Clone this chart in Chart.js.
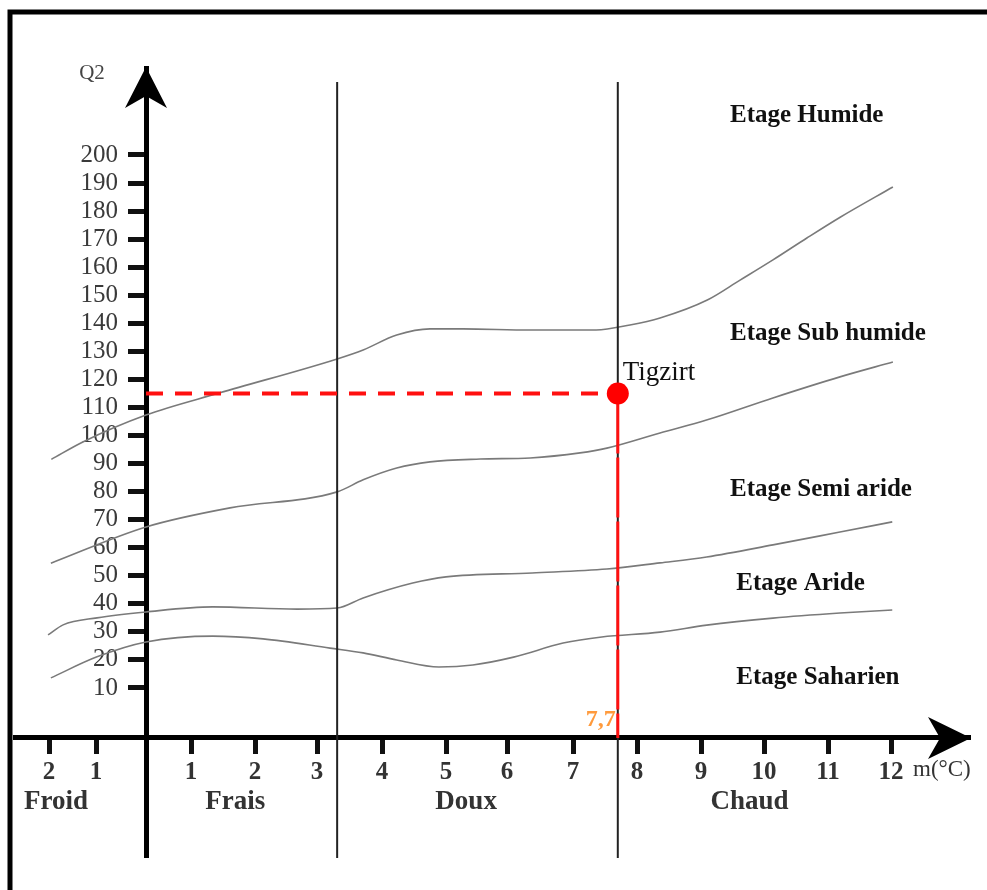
<!DOCTYPE html>
<html><head><meta charset="utf-8">
<script src="https://cdn.jsdelivr.net/npm/chart.js@4/dist/chart.umd.min.js"></script>
<style>html,body{margin:0;padding:0;background:#fff;}#wrap{width:987px;height:890px;position:relative;}</style>
</head><body><div id="wrap"><canvas id="c" width="987" height="890"></canvas></div>
<script>
// ---------- DATA ----------
const mTicks = [-2, -1, 1, 2, 3, 4, 5, 6, 7, 8, 9, 10, 11, 12];
const q2Ticks = [10, 20, 30, 40, 50, 60, 70, 80, 90, 100, 110, 120, 130, 140, 150, 160, 170, 180, 190, 200];

const limitHumideM  = [-1.95, -1.28, 0, 1.45, 3.31, 3.71, 4.23, 4.75, 5.28, 6.35, 7.36, 7.89, 8.36, 9.10, 9.62, 10.14, 10.67, 11.2, 12.03];
const limitHumideQ2 = [91.5, 97.7, 107.3, 115.2, 127.3, 130.5, 135.8, 138.0, 138.0, 137.6, 137.6, 139.4, 141.9, 148.3, 155.4, 162.6, 170.4, 177.9, 188.6];

const limitSubHumideM  = [-1.96, 0, 1.61, 3.31, 3.71, 4.23, 4.75, 5.56, 6.35, 7.11, 7.53, 8.36, 9.10, 10.14, 11.19, 12.03];
const limitSubHumideQ2 = [54.5, 67.4, 74.2, 79.9, 84.2, 88.4, 90.6, 91.6, 92.0, 93.8, 95.5, 100.9, 105.6, 113.4, 120.9, 126.2];

const limitSemiArideM  = [-2.02, -1.70, -0.98, 0, 1.34, 2.68, 3.31, 3.71, 4.48, 5.0, 6.38, 7.53, 8.36, 9.09, 10.14, 11.19, 12.02];
const limitSemiArideQ2 = [28.9, 32.5, 35.0, 37.1, 38.9, 38.1, 38.5, 42.1, 47.4, 49.6, 51.0, 52.4, 54.6, 56.7, 61.0, 65.6, 69.2];

const limitArideM  = [-1.96, -0.98, 0, 1.34, 2.13, 3.2, 3.71, 4.23, 4.89, 5.44, 6.10, 6.85, 7.45, 8.36, 9.09, 10.14, 11.19, 12.02];
const limitArideQ2 = [13.6, 21.1, 26.4, 28.5, 27.5, 24.2, 22.5, 20.0, 17.5, 18.2, 21.0, 26.0, 28.2, 29.9, 32.4, 34.9, 36.7, 37.8];

const thermalBoundsM = [3.31, 7.7];
const thermalBoundQ2Range = [-50.6, 226];
const regionNames = ['Froid', 'Frais', 'Doux', 'Chaud'];
const etageNames = ['Etage Humide', 'Etage Sub humide', 'Etage Semi aride', 'Etage Aride', 'Etage Saharien'];

const stationName = 'Tigzirt';
const stationM = 7.7;
const stationQ2 = 115;
const stationLabel = '7,7';

// ---------- LAYOUT (not data) ----------
const AXIS_Q2 = -7.8;          // level where the m axis crosses
const Y_MIN = -50.25, Y_MAX = 231;
const Y_LABEL_GAP = 28;        // distance from Q2 axis line to right edge of its labels
// hand-drawn m axis: reference pixel of each integer graduation
const KNOT_M = [-2, -1, 0, 1, 2, 3, 4, 5, 6, 7, 8, 9, 10, 11, 12];
const KNOT_U = [49, 96, 146, 191, 255, 317, 382, 446, 507, 573, 637, 701, 764, 828, 891];
const U0 = 15, U1 = 970;
const regionLabelM = [-1.85, 1.69, 5.33, 9.77];
const regionLabelQ2 = -30.5;
const etageLabelM = [9.46, 9.46, 9.46, 9.56, 9.56];
const etageLabelQ2 = [213.9, 136.5, 80.6, 47.1, 13.6];

function warp(v) {
  const n = KNOT_M.length;
  let i = 0;
  if (v <= KNOT_M[0]) i = 0;
  else if (v >= KNOT_M[n - 1]) i = n - 2;
  else { while (v > KNOT_M[i + 1]) i++; }
  const t = (v - KNOT_M[i]) / (KNOT_M[i + 1] - KNOT_M[i]);
  return KNOT_U[i] + t * (KNOT_U[i + 1] - KNOT_U[i]);
}
function unwarp(u) {
  const n = KNOT_U.length;
  let i = 0;
  if (u <= KNOT_U[0]) i = 0;
  else if (u >= KNOT_U[n - 1]) i = n - 2;
  else { while (u > KNOT_U[i + 1]) i++; }
  const t = (u - KNOT_U[i]) / (KNOT_U[i + 1] - KNOT_U[i]);
  return KNOT_M[i] + t * (KNOT_M[i + 1] - KNOT_M[i]);
}

class WarpScale extends Chart.LinearScale {
  getPixelForValue(value) {
    if (value === null || value === undefined || isNaN(value)) return NaN;
    return this.getPixelForDecimal((warp(value) - U0) / (U1 - U0));
  }
  getValueForPixel(pixel) {
    return unwarp(U0 + this.getDecimalForPixel(pixel) * (U1 - U0));
  }
}
WarpScale.id = 'warp';
WarpScale.defaults = Chart.LinearScale.defaults;

class CrossedLinearScale extends Chart.LinearScale {
  _computeLabelItems(chartArea) {
    const items = super._computeLabelItems(chartArea);
    items.forEach(it => {
      const tr = it.options.translation;
      it.options.translation = [tr[0] - Y_LABEL_GAP, tr[1]];
    });
    return items;
  }
}
CrossedLinearScale.id = 'crossedLinear';
CrossedLinearScale.defaults = Chart.LinearScale.defaults;
Chart.register(WarpScale, CrossedLinearScale);

const SERIF = '"Liberation Serif", "DejaVu Serif", serif';

function pts(ms, qs) { return ms.map((m, i) => ({x: m, y: qs[i]})); }
function curve(ms, qs) {
  return { data: pts(ms, qs), showLine: true, borderColor: '#7a7a7a', borderWidth: 1.6,
    pointRadius: 0, cubicInterpolationMode: 'monotone', fill: false, clip: false, order: 5 };
}

const datasets = [
  curve(limitHumideM, limitHumideQ2),
  curve(limitSubHumideM, limitSubHumideQ2),
  curve(limitSemiArideM, limitSemiArideQ2),
  curve(limitArideM, limitArideQ2),
  ...thermalBoundsM.map(m => ({
    data: [{x: m, y: thermalBoundQ2Range[0]}, {x: m, y: thermalBoundQ2Range[1]}],
    showLine: true, borderColor: '#222', borderWidth: 2, pointRadius: 0, clip: false, order: 4 })),
  { data: [{x: 0, y: stationQ2}, {x: stationM, y: stationQ2}], showLine: true,
    borderColor: '#ff1010', borderWidth: 4, borderDash: [17, 12], pointRadius: 0, clip: false, order: 3 },
  { data: [{x: stationM, y: stationQ2}, {x: stationM, y: AXIS_Q2}], showLine: true,
    borderColor: '#ff1010', borderWidth: 3, borderDash: [60, 4], pointRadius: 0, clip: false, order: 3 },
  { data: [{x: stationM, y: stationQ2}], showLine: false, pointRadius: 11, pointBackgroundColor: '#ff0000',
    pointBorderColor: '#ff0000', pointBorderWidth: 0, clip: false, order: 1 }
];

const decor = {
  id: 'decor',
  afterDraw(chart) {
    const ctx = chart.ctx, xs = chart.scales.x, ys = chart.scales.y;
    ctx.save();
    // frame
    ctx.strokeStyle = '#000'; ctx.lineWidth = 5;
    ctx.beginPath(); ctx.moveTo(10, 890); ctx.lineTo(10, 12); ctx.lineTo(987, 12); ctx.stroke();
    // arrows
    const ax = xs.getPixelForValue(0), ay = ys.getPixelForValue(AXIS_Q2);
    const top = chart.chartArea.top, right = chart.chartArea.right;
    ctx.fillStyle = '#000';
    ctx.beginPath(); ctx.moveTo(ax, top - 1); ctx.lineTo(ax - 21, top + 40); ctx.lineTo(ax, top + 28); ctx.lineTo(ax + 21, top + 40); ctx.closePath(); ctx.fill();
    ctx.beginPath(); ctx.moveTo(right + 1, ay); ctx.lineTo(right - 42, ay - 21); ctx.lineTo(right - 30, ay); ctx.lineTo(right - 42, ay + 21); ctx.closePath(); ctx.fill();
    // axis names
    ctx.fillStyle = '#444'; ctx.font = '21px ' + SERIF; ctx.textAlign = 'center'; ctx.textBaseline = 'middle';
    ctx.fillText('Q2', ax - 54, top + 5);
    ctx.textAlign = 'left'; ctx.font = '23px ' + SERIF; ctx.fillStyle = '#333';
    ctx.fillText('m(°C)', xs.getPixelForValue(12) + 22, ay + 32);
    // thermal region names
    ctx.font = 'bold 27px ' + SERIF; ctx.fillStyle = '#333'; ctx.textAlign = 'center';
    regionNames.forEach((t, i) => ctx.fillText(t, xs.getPixelForValue(regionLabelM[i]), ys.getPixelForValue(regionLabelQ2)));
    // bioclimatic stages
    ctx.font = 'bold 25px ' + SERIF; ctx.fillStyle = '#111'; ctx.textAlign = 'left';
    etageNames.forEach((t, i) => ctx.fillText(t, xs.getPixelForValue(etageLabelM[i]), ys.getPixelForValue(etageLabelQ2[i])));
    // station
    const px = xs.getPixelForValue(stationM), py = ys.getPixelForValue(stationQ2);
    ctx.font = '27px ' + SERIF; ctx.fillStyle = '#111'; ctx.textAlign = 'left';
    ctx.fillText(stationName, px + 5, py - 21);
    ctx.font = 'bold 24px ' + SERIF; ctx.fillStyle = '#ff9a3c'; ctx.textAlign = 'right';
    ctx.fillText(stationLabel, px - 2, ay - 18);
    ctx.restore();
  }
};

new Chart(document.getElementById('c'), {
  type: 'scatter',
  data: { datasets },
  options: {
    responsive: false, animation: false, events: [],
    layout: { padding: { left: U0, right: 987 - U1, top: 68, bottom: 33 } },
    plugins: { legend: { display: false }, tooltip: { enabled: false } },
    scales: {
      x: {
        type: 'warp', min: unwarp(U0), max: unwarp(U1), bounds: 'data',
        position: { y: AXIS_Q2 },
        afterBuildTicks: s => { s.ticks = mTicks.map(v => ({ value: v })); },
        afterFit: s => { s.height = 0; },
        border: { display: true, color: '#000', width: 5 },
        grid: { display: true, drawOnChartArea: false, drawTicks: true, tickLength: 14, tickWidth: 5, tickColor: '#111' },
        ticks: { autoSkip: false, maxRotation: 0, padding: 6, color: '#333',
          font: { family: SERIF, size: 25, weight: 'bold' }, callback: v => String(Math.abs(v)) }
      },
      y: {
        type: 'crossedLinear', min: Y_MIN, max: Y_MAX, bounds: 'data',
        position: { x: 0 },
        afterBuildTicks: s => { s.ticks = q2Ticks.map(v => ({ value: v })); },
        afterFit: s => { s.width = 0; },
        border: { display: true, color: '#000', width: 5 },
        grid: { display: true, drawOnChartArea: false, drawTicks: true, tickLength: 16, tickWidth: 5, tickColor: '#111' },
        ticks: { autoSkip: false, padding: 10, color: '#3a3a3a',
          font: { family: SERIF, size: 25 }, callback: v => String(v) }
      }
    }
  },
  plugins: [decor]
});
</script></body></html>
